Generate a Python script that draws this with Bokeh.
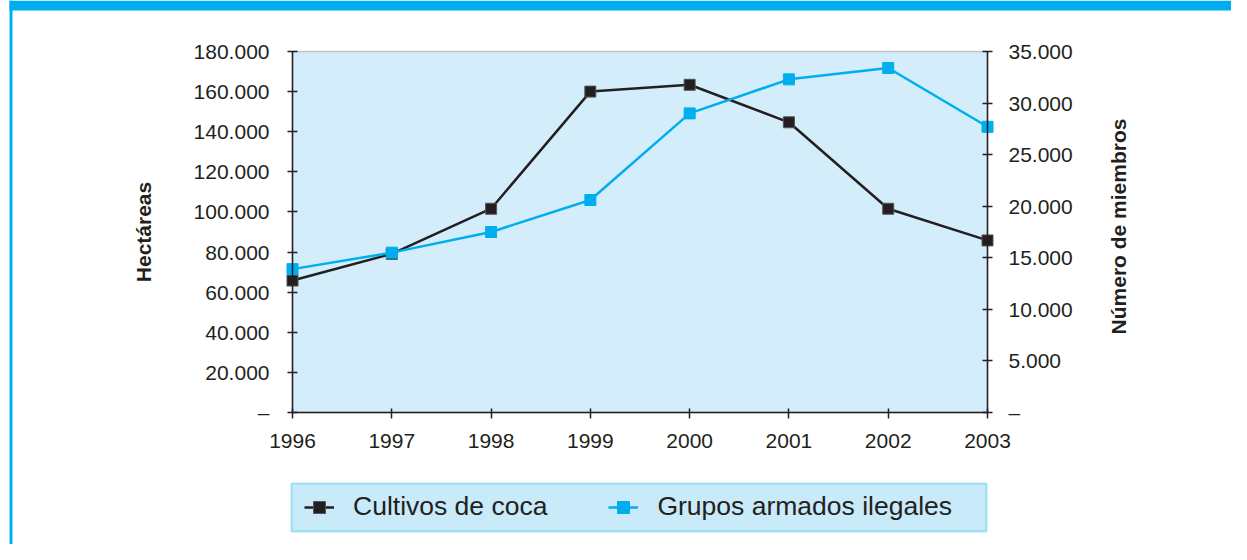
import math
from bokeh.plotting import figure
from bokeh.models import (Range1d, LinearAxis, FixedTicker, Legend, LegendItem, BoxAnnotation, Label)
from bokeh.embed import file_html
from bokeh.resources import INLINE

# ---- data ----
years = [1996, 1997, 1998, 1999, 2000, 2001, 2002, 2003]
coca = [65800, 79100, 101600, 160000, 163400, 144700, 101600, 85800]
grupos = [13900, 15500, 17500, 20600, 29000, 32300, 33400, 27700]
series_names = ["Cultivos de coca", "Grupos armados ilegales"]
left_ticks = [0, 20000, 40000, 60000, 80000, 100000, 120000, 140000, 160000, 180000]
left_labels = ["–", "20.000", "40.000", "60.000", "80.000", "100.000", "120.000",
               "140.000", "160.000", "180.000"]
right_ticks = [0, 5000, 10000, 15000, 20000, 25000, 30000, 35000]
right_labels = ["–", "5.000", "10.000", "15.000", "20.000", "25.000", "30.000", "35.000"]
year_labels = [str(y) for y in years]
left_title = "Hectáreas"
right_title = "Número de miembros"

FONT = "Liberation Sans"
TXT = "#231f20"
BLACK = "#231f20"
BLUE = "#00aeef"

# ---- layout (pixels) ----
W, H = 1231, 544
PL, PR, PT, PB = 292, 987, 51, 412   # plot-area box on the canvas

kx = (years[-1] - years[0]) / (PR - PL)
xr = Range1d(years[0] - PL * kx, years[-1] + (W - PR) * kx)
kl = (left_ticks[-1] - left_ticks[0]) / (PB - PT)
yl = Range1d(left_ticks[0] - (H - PB) * kl, left_ticks[-1] + PT * kl)
kr = (right_ticks[-1] - right_ticks[0]) / (PB - PT)
yr = Range1d(right_ticks[0] - (H - PB) * kr, right_ticks[-1] + PT * kr)

p = figure(width=W, height=H, output_backend="svg", toolbar_location=None,
           x_range=xr, y_range=yl,
           min_border_left=0, min_border_right=0, min_border_top=0, min_border_bottom=0,
           background_fill_color="white", border_fill_color="white")
p.extra_y_ranges = {"right": yr}
p.xgrid.visible = False
p.ygrid.visible = False
p.outline_line_color = None

# plot area (light blue with grey top rule)
p.add_layout(BoxAnnotation(left=years[0], right=years[-1], bottom=left_ticks[0], top=left_ticks[-1],
                           fill_color="#d3eefa", fill_alpha=1, line_color="#5b5b5b",
                           line_width=1.5, level="underlay"))

# page decoration: blue top band and left rule
cu = dict(left_units="canvas", right_units="canvas", top_units="canvas", bottom_units="canvas")
p.add_layout(BoxAnnotation(left=9, right=W, top=0, bottom=10, fill_color=BLUE, fill_alpha=1,
                           line_alpha=0, level="underlay", **cu))
p.add_layout(BoxAnnotation(left=9, right=12, top=0, bottom=H, fill_color=BLUE, fill_alpha=1,
                           line_alpha=0, level="underlay", **cu))

# x axis
xa = p.xaxis[0]
xa.ticker = FixedTicker(ticks=years)
xa.major_label_overrides = {y: l for y, l in zip(years, year_labels)}
xa.fixed_location = left_ticks[0]
xa.bounds = (years[0], years[-1])

# left axis
ya = p.yaxis[0]
ya.ticker = FixedTicker(ticks=left_ticks)
ya.major_label_overrides = {t: l for t, l in zip(left_ticks, left_labels)}
ya.axis_label = left_title
ya.fixed_location = years[0]
ya.bounds = (left_ticks[0], left_ticks[-1])

# right axis
ra = LinearAxis(y_range_name="right")
ra.ticker = FixedTicker(ticks=right_ticks)
ra.major_label_overrides = {t: l for t, l in zip(right_ticks, right_labels)}
ra.fixed_location = years[-1]
ra.bounds = (right_ticks[0], right_ticks[-1])
p.add_layout(ra, "right")

for ax in (xa, ya, ra):
    ax.axis_line_color = BLACK
    ax.axis_line_width = 1.5
    ax.major_tick_line_color = BLACK
    ax.major_tick_line_width = 1.5
    ax.minor_tick_line_color = None
    ax.major_tick_in = 5
    ax.major_tick_out = 5
    ax.major_label_text_font = FONT
    ax.major_label_text_font_size = "21px"
    ax.major_label_text_color = TXT
    ax.axis_label_text_font = FONT
    ax.axis_label_text_font_size = "21px"
    ax.axis_label_text_font_style = "bold"
    ax.axis_label_text_color = TXT

xa.major_tick_in = 4
xa.major_tick_out = 6
xa.major_label_standoff = 15
ya.major_label_standoff = 18
ya.axis_label_standoff = 36
ra.major_label_standoff = 16

# right axis title (reads bottom-to-top, centred beside the axis)
p.add_layout(Label(x=1118, y=H - 226, x_units="screen", y_units="screen", text=right_title,
                   angle=math.pi / 2, text_align="center", text_baseline="middle",
                   text_font=FONT, text_font_size="21px", text_font_style="bold",
                   text_color=TXT))

# series
r1 = p.line(years, coca, line_color=BLACK, line_width=2.5)
s1 = p.scatter(years, coca, marker="square", size=11, fill_color=BLACK, line_color="#555555", line_width=1)
r2 = p.line(years, grupos, y_range_name="right", line_color=BLUE, line_width=2.5)
s2 = p.scatter(years, grupos, y_range_name="right", marker="square", size=11, fill_color=BLUE, line_color=BLUE)

# legend box, then the legend itself
p.add_layout(BoxAnnotation(left=291, right=986, top=483, bottom=531, fill_color="#c8eaf9",
                           fill_alpha=1, line_color=BLUE, line_width=2, **cu))
legend = Legend(items=[LegendItem(label=series_names[0], renderers=[r1, s1]),
                       LegendItem(label=series_names[1], renderers=[r2, s2])],
                orientation="horizontal", location=(291, 9), padding=13, spacing=61,
                glyph_width=30, glyph_height=30, label_height=30, label_standoff=19,
                label_text_font=FONT, label_text_font_size="26.5px", label_text_color=TXT,
                background_fill_alpha=0, border_line_alpha=0)
p.add_layout(legend)

open("out.html", "w").write(file_html(p, INLINE))
